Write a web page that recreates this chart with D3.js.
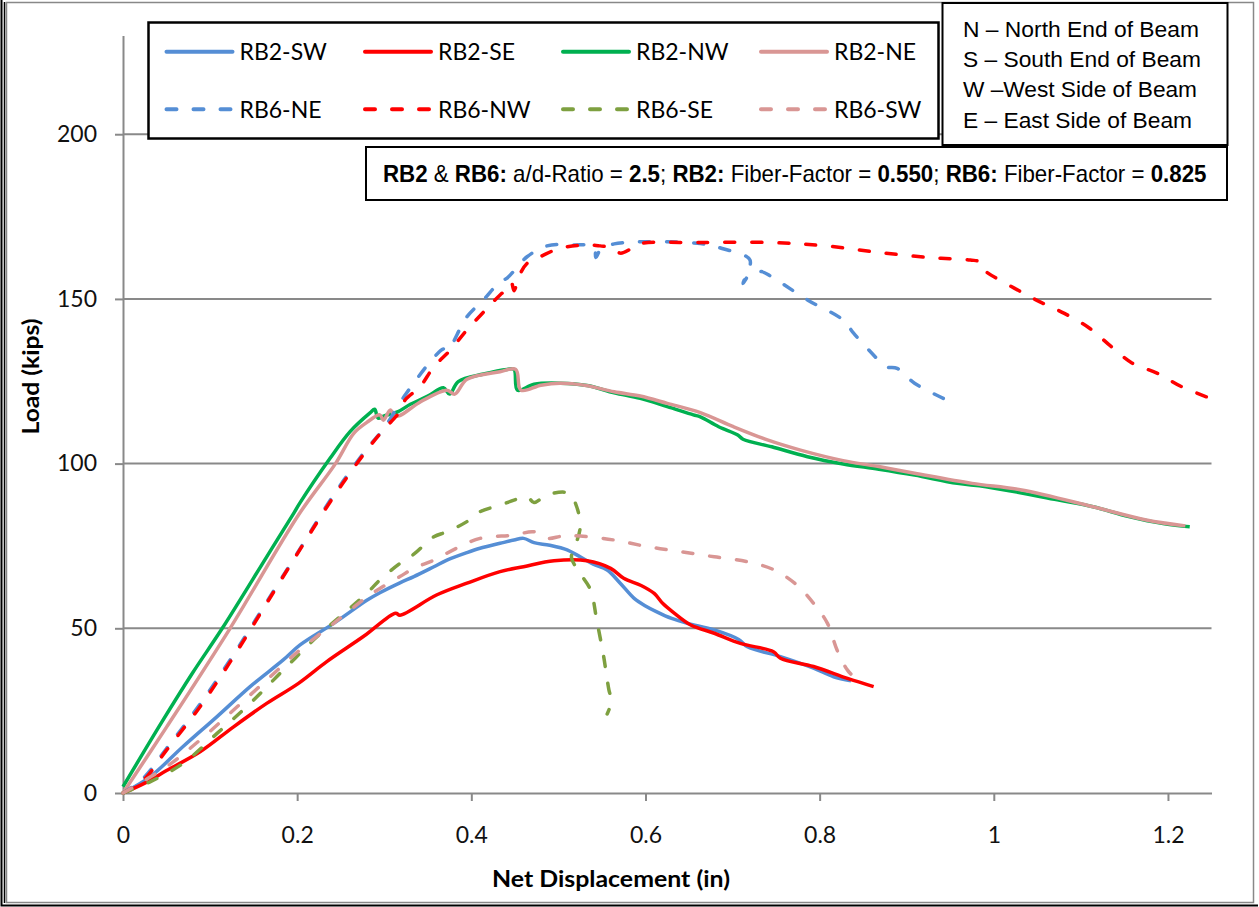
<!DOCTYPE html>
<html><head><meta charset="utf-8">
<script src="https://cdn.jsdelivr.net/npm/d3@7"></script>
<style>
html,body{margin:0;padding:0;background:#fff;}
svg{display:block;}
</style></head>
<body>
<svg id="chart" width="1259" height="907"></svg>
<script>
// ---------- DATA ----------
const seriesNames = ["RB2-SW","RB2-SE","RB2-NW","RB2-NE","RB6-NE","RB6-NW","RB6-SE","RB6-SW"];
const xTicks = [0,0.2,0.4,0.6,0.8,1,1.2];
const yTicks = [0,50,100,150,200];

const rb2SW = [[0,0],[0.031,4.9],[0.069,14.1],[0.108,23.2],[0.146,32.3],[0.184,40.4],[0.203,44.9],[0.242,51.5],[0.28,58.5],[0.295,60.8],[0.318,63.8],[0.334,65.7],[0.357,68.7],[0.372,70.7],[0.395,73],[0.41,74.3],[0.433,75.8],[0.449,76.8],[0.46,77.3],[0.472,76.0],[0.49,75.2],[0.51,73.8],[0.525,71.7],[0.54,69.5],[0.556,67.7],[0.571,63.7],[0.587,59.1],[0.6,56.8],[0.613,55.0],[0.63,53.0],[0.648,51.5],[0.679,49.5],[0.707,46.6],[0.717,44.4],[0.755,41.4],[0.793,37.9],[0.816,35.3],[0.836,34.1]];
const rb2SE = [[0,0],[0.025,3],[0.05,6.8],[0.0885,12.5],[0.127,20.1],[0.165,27.2],[0.2015,33.3],[0.234,39.9],[0.276,47.5],[0.313,54.6],[0.318,54.0],[0.36,60.1],[0.395,63.7],[0.433,67.2],[0.46,68.7],[0.495,70.5],[0.533,70.5],[0.56,68.2],[0.575,65.2],[0.595,63],[0.61,60.6],[0.62,57.5],[0.633,54.6],[0.652,51.0],[0.679,48.5],[0.709,45.4],[0.747,42.9],[0.755,40.9],[0.793,38.4],[0.832,34.8],[0.862,32.3]];
const rb2NW = [[0,1.9],[0.0445,21.5],[0.08,36.5],[0.114,50],[0.165,71.7],[0.196,84.9],[0.203,88],[0.238,101.7],[0.261,109.8],[0.284,115.5],[0.289,116.5],[0.293,113.8],[0.30,114.5],[0.316,115.8],[0.33,118],[0.35,120.5],[0.368,123.0],[0.375,121.1],[0.385,124.9],[0.414,127.2],[0.441,128.6],[0.449,128.6],[0.453,122.3],[0.472,124.1],[0.502,124.4],[0.533,123.7],[0.564,121.5],[0.594,119.8],[0.625,117.3],[0.655,114.8],[0.663,114.2],[0.684,111.2],[0.706,108.7],[0.712,107.4],[0.745,105.1],[0.786,102.1],[0.827,99.9],[0.868,98.3],[0.909,96.5],[0.958,94.0],[0.991,93.0],[1.073,89.0],[1.114,86.9],[1.155,83.9],[1.196,81.7],[1.225,80.8]];
const rb2NE = [[0,0],[0.05,20],[0.123,50],[0.2015,84.4],[0.244,100],[0.265,109.2],[0.28,112.5],[0.295,114.8],[0.299,113.2],[0.307,116.3],[0.312,114.5],[0.318,114.6],[0.34,118.5],[0.372,122.3],[0.381,121.1],[0.395,125.6],[0.433,127.9],[0.451,128.6],[0.457,122.3],[0.48,123.8],[0.502,124.4],[0.53,123.8],[0.564,121.8],[0.594,120.5],[0.625,118.3],[0.663,115.5],[0.701,111.2],[0.74,107.2],[0.778,104.1],[0.827,100.9],[0.868,99.1],[0.909,97.1],[0.975,94.0],[1.032,92.0],[1.114,86.9],[1.175,82.9],[1.22,81.1]];
const rb6NE = [[0,0],[0.0234,4.5],[0.05,13.5],[0.0885,27],[0.127,42],[0.165,58],[0.203,74],[0.242,90.5],[0.28,104.5],[0.299,110.5],[0.324,120.8],[0.357,132.2],[0.368,134.8],[0.372,134.2],[0.395,144.6],[0.414,149.7],[0.433,155.2],[0.441,156.3],[0.464,162.8],[0.487,166.1],[0.518,166.4],[0.541,165.8],[0.543,162.6],[0.548,164.8],[0.564,166.7],[0.663,166.8],[0.688,165.3],[0.72,161.8],[0.712,154.7],[0.72,157.6],[0.733,158.3],[0.745,156.7],[0.786,149.7],[0.827,143.6],[0.839,139.6],[0.86,133.5],[0.876,129.4],[0.889,128.9],[0.909,124.4],[0.942,119.8]];
const rb6NW = [[0,0],[0.0234,3.9],[0.05,13],[0.0885,26.2],[0.127,41.4],[0.165,57.6],[0.203,73.8],[0.242,90.0],[0.28,104.1],[0.299,110.2],[0.318,115.8],[0.324,119.3],[0.341,123.3],[0.357,129.4],[0.376,134.5],[0.395,140.6],[0.418,147.1],[0.433,151.2],[0.441,153],[0.446,155],[0.449,152.5],[0.455,157],[0.464,160.8],[0.479,162.8],[0.502,165.4],[0.533,166.4],[0.548,166.1],[0.564,165.4],[0.571,163.9],[0.587,165.8],[0.594,166.8],[0.663,167.1],[0.745,167.1],[0.807,166.1],[0.868,164.1],[0.929,162.5],[0.973,161.8],[0.985,161.2],[0.987,159.5],[0.991,158.3],[1.024,153.2],[1.053,149.1],[1.081,145.6],[1.11,141.1],[1.135,135.5],[1.159,130.5],[1.188,127.4],[1.216,123.3],[1.249,119.8]];
const rb6SE = [[0,0],[0.031,3.4],[0.069,9.0],[0.108,18.1],[0.146,27.2],[0.184,37.3],[0.223,47.5],[0.249,53.5],[0.28,60.6],[0.295,64.7],[0.318,69.7],[0.334,72.5],[0.357,77.8],[0.372,79.3],[0.395,82.4],[0.41,85.4],[0.433,87.4],[0.449,88.9],[0.464,90],[0.472,88.2],[0.487,90.5],[0.512,91.0],[0.521,86.9],[0.525,80.8],[0.52,75.5],[0.515,71.5],[0.525,66.7],[0.537,61.6],[0.544,52.5],[0.552,41.4],[0.558,31.3],[0.561,28],[0.556,24]];
const rb6SW = [[0,0],[0.05,8.0],[0.0885,16.1],[0.127,25.2],[0.165,34.3],[0.203,43.4],[0.242,51.5],[0.28,59.5],[0.295,62.1],[0.318,65.7],[0.334,68.2],[0.357,70.7],[0.383,74.3],[0.41,77.3],[0.449,78.3],[0.472,79.3],[0.487,77.3],[0.505,78.0],[0.525,78.0],[0.564,76.8],[0.602,74.8],[0.64,73.3],[0.679,71.7],[0.717,70.2],[0.748,67.7],[0.774,63.1],[0.793,57.6],[0.809,51.5],[0.82,43.4],[0.832,37.3],[0.843,34.3]];

const seriesData = [rb2SW, rb2SE, rb2NW, rb2NE, rb6NE, rb6NW, rb6SE, rb6SW];
const seriesColors = ["#558ED5","#FF0000","#00B050","#D99694","#558ED5","#FF0000","#7EA040","#D99694"];
const seriesDashed = [false,false,false,false,true,true,true,true];

const noteLines = ["N \u2013 North End of Beam","S \u2013 South End of Beam","W \u2013West Side of Beam","E \u2013 East Side of Beam"];

// ---------- DRAW ----------
const svg = d3.select("#chart");
const x = d3.scaleLinear().domain([0,1.25]).range([123,1211.5]);
const y = d3.scaleLinear().domain([0,230]).range([793,35.4]);
const gridColor = "#898989";

// frame
svg.append("rect").attr("x",6.5).attr("y",2.5).attr("width",1247).attr("height",900)
  .attr("fill","none").attr("stroke","#888").attr("stroke-width",1.5);
svg.append("path").attr("d","M1.5,0V905.5H1258").attr("fill","none").attr("stroke","#000").attr("stroke-width",2);
svg.append("path").attr("d","M4.5,2V903").attr("fill","none").attr("stroke","#000").attr("stroke-width",1.5);

// gridlines
svg.append("g").selectAll("line").data(yTicks.filter(d=>d>0)).join("line")
  .attr("x1",x(0)).attr("x2",x(1.25)).attr("y1",d=>y(d)).attr("y2",d=>y(d))
  .attr("stroke",gridColor).attr("stroke-width",2);

// axes
const font = "Lato, 'Open Sans', sans-serif";
const yAxis = svg.append("g").attr("transform",`translate(${x(0)},0)`)
  .call(d3.axisLeft(y).tickValues(yTicks).tickSize(8).tickPadding(18).tickSizeOuter(0).tickFormat(d3.format("d")));
const xAxis = svg.append("g").attr("transform",`translate(0,${y(0)})`)
  .call(d3.axisBottom(x).tickValues(xTicks).tickSize(8).tickPadding(26).tickSizeOuter(0).tickFormat(d=>String(d)));
[yAxis,xAxis].forEach(g=>{
  g.select(".domain").attr("stroke",gridColor).attr("stroke-width",2);
  g.selectAll(".tick line").attr("stroke",gridColor).attr("stroke-width",2);
  g.selectAll(".tick text").attr("fill","#111").style("font-family",font).style("font-size","23px");
});

// lines
const line = d3.line().x(d=>x(d[0])).y(d=>y(d[1])).curve(d3.curveCatmullRom.alpha(0.5));
const gLines = svg.append("g");
seriesData.forEach((s,i)=>{
  gLines.append("path").datum(s).attr("d",line)
    .attr("fill","none").attr("stroke",seriesColors[i])
    .attr("stroke-width",3.5)
    .attr("stroke-linecap", seriesDashed[i] ? "round" : "butt")
    .attr("stroke-linejoin","round")
    .attr("stroke-dasharray", seriesDashed[i] ? "10,17" : null);
});

// axis titles
svg.append("text").attr("x",611).attr("y",886.5).attr("text-anchor","middle")
  .style("font-family",font).style("font-weight","bold").style("font-size","23px").attr("fill","#000")
  .attr("textLength",238).attr("lengthAdjust","spacingAndGlyphs")
  .text("Net Displacement (in)");
svg.append("text").attr("transform","translate(38.5,376.5) rotate(-90)").attr("text-anchor","middle")
  .style("font-family",font).style("font-weight","bold").style("font-size","23px").attr("fill","#000")
  .attr("textLength",116).attr("lengthAdjust","spacingAndGlyphs")
  .text("Load (kips)");

// legend
const lg = svg.append("g");
lg.append("rect").attr("x",148.5).attr("y",22.5).attr("width",790).attr("height",116)
  .attr("fill","#fff").attr("stroke","#000").attr("stroke-width",2.5);
const colX = [164.5,363,561,759];
const rowY = [51.7,109.3];
seriesNames.forEach((n,i)=>{
  const cx = colX[i%4], cy = rowY[Math.floor(i/4)];
  lg.append("line").attr("x1",cx+2).attr("x2",cx+68).attr("y1",cy).attr("y2",cy)
    .attr("stroke",seriesColors[i]).attr("stroke-width",4)
    .attr("stroke-linecap","round")
    .attr("stroke-dasharray", seriesDashed[i] ? "10,17" : null);
  lg.append("text").attr("x",cx+75).attr("y",cy+8.5)
    .style("font-family",font).style("font-size","23px").attr("fill","#000").text(n);
});

// note box
svg.append("rect").attr("x",942.5).attr("y",3).attr("width",285).attr("height",142)
  .attr("fill","#fff").attr("stroke","#000").attr("stroke-width",2);
const noteY = [37.3,66.7,96.7,128.3];
const noteW = [236,238,234,229];
noteLines.forEach((t,i)=>{
  svg.append("text").attr("x",963).attr("y",noteY[i])
    .style("font-family","'Liberation Sans', Arial, sans-serif").style("font-size","22px").attr("fill","#000")
    .attr("textLength",noteW[i]).attr("lengthAdjust","spacingAndGlyphs")
    .text(t);
});

// info box
svg.append("rect").attr("x",366).attr("y",147).attr("width",861).attr("height",53)
  .attr("fill","#fff").attr("stroke","#000").attr("stroke-width",2);
const infoG = svg.append("g");
const info = infoG.append("text").attr("x",0).attr("y",0)
  .style("font-family","'Liberation Sans Narrow','Arial Narrow','Liberation Sans',sans-serif").style("font-size","24px").attr("fill","#000");
const infoParts = [["RB2",1],[" & ",0],["RB6:",1],[" a/d-Ratio = ",0],["2.5",1],["; ",0],["RB2:",1],[" Fiber-Factor = ",0],["0.550",1],["; ",0],["RB6:",1],[" Fiber-Factor = ",0],["0.825",1]];
infoParts.forEach(p=>{
  info.append("tspan").style("font-weight",p[1]?"bold":"normal").text(p[0]);
});
const natW = info.node().getComputedTextLength();
infoG.attr("transform",`translate(383,182) scale(${824/natW},1)`);
</script>
</body></html>
